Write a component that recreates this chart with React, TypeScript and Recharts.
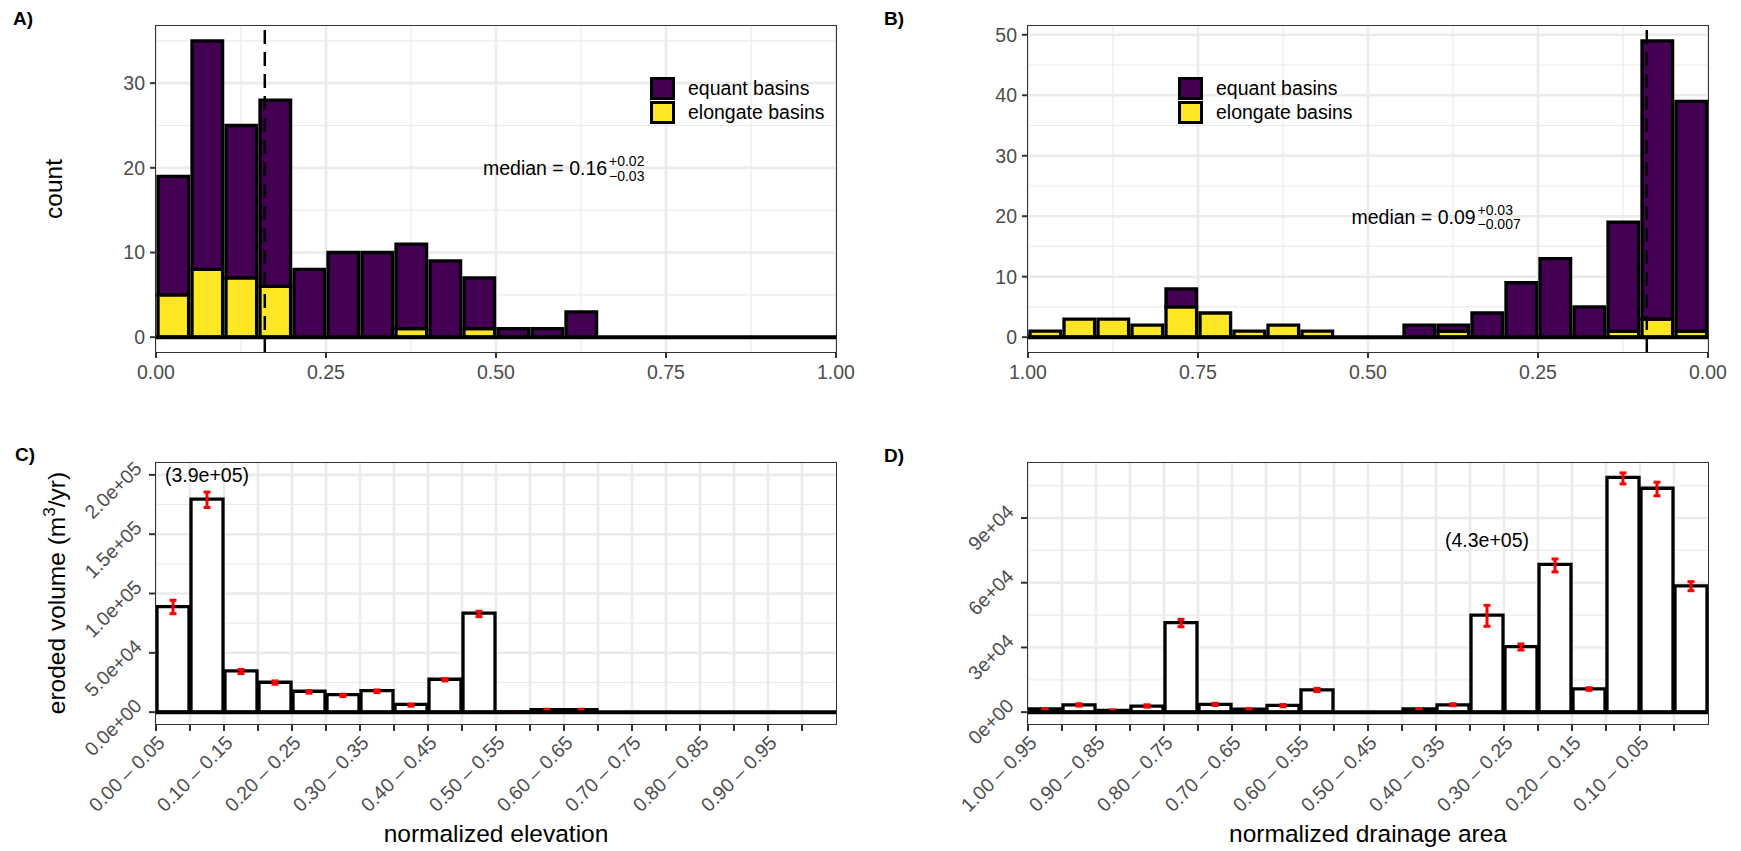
import React from 'react';
import {
  BarChart,
  Bar,
  XAxis,
  YAxis,
  CartesianGrid,
  ReferenceLine,
  ReferenceDot,
  ErrorBar
} from 'recharts';

const FONT = '"Liberation Sans", Arial, Helvetica, sans-serif';
const PURPLE = '#440154';
const YELLOW = '#FDE725';
const GRID = '#EBEBEB';
const TICK_TEXT = '#4D4D4D';
const AXIS = '#333333';

// bins of normalized elevation, left to right
const elevBinLabels = [
  '0.00 – 0.05', '0.05 – 0.10', '0.10 – 0.15', '0.15 – 0.20', '0.20 – 0.25',
  '0.25 – 0.30', '0.30 – 0.35', '0.35 – 0.40', '0.40 – 0.45', '0.45 – 0.50',
  '0.50 – 0.55', '0.55 – 0.60', '0.60 – 0.65', '0.65 – 0.70', '0.70 – 0.75',
  '0.75 – 0.80', '0.80 – 0.85', '0.85 – 0.90', '0.90 – 0.95', '0.95 – 1.00'
];
const elevBreaks = [0, 0.05, 0.1, 0.15, 0.2, 0.25, 0.3, 0.35, 0.4, 0.45, 0.5, 0.55, 0.6, 0.65, 0.7, 0.75, 0.8, 0.85, 0.9, 0.95];
const elevMids = [0.025, 0.075, 0.125, 0.175, 0.225, 0.275, 0.325, 0.375, 0.425, 0.475, 0.525, 0.575, 0.625, 0.675, 0.725, 0.775, 0.825, 0.875, 0.925, 0.975];

// bins of normalized drainage area, left to right (axis reversed)
const areaBinLabels = [
  '1.00 – 0.95', '0.95 – 0.90', '0.90 – 0.85', '0.85 – 0.80', '0.80 – 0.75',
  '0.75 – 0.70', '0.70 – 0.65', '0.65 – 0.60', '0.60 – 0.55', '0.55 – 0.50',
  '0.50 – 0.45', '0.45 – 0.40', '0.40 – 0.35', '0.35 – 0.30', '0.30 – 0.25',
  '0.25 – 0.20', '0.20 – 0.15', '0.15 – 0.10', '0.10 – 0.05', '0.05 – 0.00'
];
const areaBreaks = [1, 0.95, 0.9, 0.85, 0.8, 0.75, 0.7, 0.65, 0.6, 0.55, 0.5, 0.45, 0.4, 0.35, 0.3, 0.25, 0.2, 0.15, 0.1, 0.05];
const areaMids = [0.975, 0.925, 0.875, 0.825, 0.775, 0.725, 0.675, 0.625, 0.575, 0.525, 0.475, 0.425, 0.375, 0.325, 0.275, 0.225, 0.175, 0.125, 0.075, 0.025];

// A) counts
const elevEquant = [14, 27, 18, 22, 8, 10, 10, 10, 9, 6, 1, 1, 3, 0, 0, 0, 0, 0, 0, 0];
const elevElongate = [5, 8, 7, 6, 0, 0, 0, 1, 0, 1, 0, 0, 0, 0, 0, 0, 0, 0, 0, 0];

// B) counts
const areaEquant = [0, 0, 0, 0, 3, 0, 0, 0, 0, 0, 0, 2, 1, 4, 9, 13, 5, 18, 46, 38];
const areaElongate = [1, 3, 3, 2, 5, 4, 1, 2, 1, 0, 0, 0, 1, 0, 0, 0, 0, 1, 3, 1];

// C) eroded volume (m3/yr) with error range
const elevVolume = [89000, 179500, 34700, 25200, 17600, 14800, 18200, 6500, 27700, 83400, 300, 2000, 2000, 0, 0, 0, 0, 0, 0, 0];
const elevVolLow = [83000, 172500, 32500, 23500, 16000, 13200, 16500, 5000, 26300, 80500, 0, 1200, 1200, null, null, null, null, null, null, null];
const elevVolHigh = [94300, 185500, 36000, 26300, 18200, 15000, 18700, 6800, 28300, 85000, 600, 2400, 2400, null, null, null, null, null, null, null];

// D) eroded volume (m3/yr) with error range
const areaVolume = [1500, 3400, 800, 2800, 41500, 3600, 1400, 3100, 10300, 0, 0, 1500, 3400, 45000, 30400, 68500, 10800, 108800, 103800, 58500];
const areaVolLow = [800, 2800, 300, 2300, 39600, 3100, 800, 2500, 9500, null, null, 800, 3000, 39800, 28800, 65000, 10100, 105800, 100300, 56300];
const areaVolHigh = [1700, 3900, 1000, 3400, 43000, 4100, 1600, 3500, 11000, null, null, 1700, 3900, 49500, 31600, 71000, 11300, 110900, 106600, 60500];

const legendNames = ['equant basins', 'elongate basins'];
const legendColors = [PURPLE, YELLOW];

const fracTicks = [0, 0.25, 0.5, 0.75, 1];
const fracLabels = ['0.00', '0.25', '0.50', '0.75', '1.00'];
const fracMinor = [0.125, 0.375, 0.625, 0.875];

const countTicksA = [0, 10, 20, 30];
const countMinorA = [5, 15, 25, 35];
const countTicksB = [0, 10, 20, 30, 40, 50];
const countMinorB = [5, 15, 25, 35, 45];

const volTicksC = [0, 50000, 100000, 150000, 200000];
const volLabelsC = ['0.0e+00', '5.0e+04', '1.0e+05', '1.5e+05', '2.0e+05'];
const volMinorC = [25000, 75000, 125000, 175000];
const volTicksD = [0, 30000, 60000, 90000];
const volLabelsD = ['0e+00', '3e+04', '6e+04', '9e+04'];
const volMinorD = [15000, 45000, 75000, 105000];

const histRows = (mids: number[], equant: number[], elongate: number[]) =>
  mids.map((mid, i) => ({ mid, equant: equant[i], elongate: elongate[i] }));

const volRows = (mids: number[], vol: number[], lo: (number | null)[], hi: (number | null)[]) =>
  mids.map((mid, i) => ({
    mid,
    vol: vol[i],
    err: lo[i] == null ? null : [vol[i] - (lo[i] as number), (hi[i] as number) - vol[i]]
  }));

const findIdx = (arr: number[], v: number) => arr.findIndex((a) => Math.abs(a - v) < 1e-9);

const medianLabel = (main: string, sup: string, sub: string, scriptW: number) => (p: any) => {
  const vb = p.viewBox || {};
  const cx = vb.x + (vb.width || 0) / 2;
  const cy = vb.y + (vb.height || 0) / 2;
  const mainW = 124;
  const left = cx - (mainW + 2 + scriptW) / 2;
  return (
    <g style={{ fontFamily: FONT }}>
      <text x={left} y={cy + 7.4} fontSize={19.5} fill="#000">{main}</text>
      <text x={left + mainW + 2} y={cy - 1.6} fontSize={14} fill="#000">{sup}</text>
      <text x={left + mainW + 2} y={cy + 13} fontSize={14} fill="#000">{sub}</text>
    </g>
  );
};

const totalLabel = (txt: string) => (p: any) => {
  const vb = p.viewBox || {};
  const cx = vb.x + (vb.width || 0) / 2;
  const cy = vb.y + (vb.height || 0) / 2;
  return (
    <text x={cx} y={cy + 7} textAnchor="middle" fontSize={19.5} fill="#000" style={{ fontFamily: FONT }}>
      {txt}
    </text>
  );
};

const rotXTick = (breaks: number[], labels: string[]) => (props: any) => {
  const { x, y, payload } = props;
  const i = findIdx(breaks, payload.value);
  if (i < 0 || i % 2 !== 0) return <g />;
  const ax = x + 10;
  const ay = y + 11;
  return (
    <text x={ax} y={ay} textAnchor="end" transform={`rotate(-45 ${ax} ${ay})`} fill={TICK_TEXT} fontSize={19.5} style={{ fontFamily: FONT }}>
      {labels[i]}
    </text>
  );
};

const rotYTick = (ticks: number[], labels: string[]) => (props: any) => {
  const { x, y, payload } = props;
  const i = findIdx(ticks, payload.value);
  const ay = y - 5;
  return (
    <text x={x} y={ay} textAnchor="end" transform={`rotate(-45 ${x} ${ay})`} fill={TICK_TEXT} fontSize={19.5} style={{ fontFamily: FONT }}>
      {i >= 0 ? labels[i] : ''}
    </text>
  );
};

const PlotBorder = ({ left, top, width, height }: any) => (
  <div
    style={{
      position: 'absolute',
      left: left - 0.75,
      top: top - 0.75,
      width: width + 1.5,
      height: height + 1.5,
      border: `1.5px solid ${AXIS}`,
      boxSizing: 'border-box',
      pointerEvents: 'none'
    }}
  />
);

const KeyLegend = ({ left, top }: { left: number; top: number }) => (
  <div style={{ position: 'absolute', left, top, pointerEvents: 'none' }}>
    {legendNames.map((name, i) => (
      <div key={name} style={{ display: 'flex', alignItems: 'center', height: 24 }}>
        <div style={{ width: 25, height: 23, background: legendColors[i], border: '3px solid #000', boxSizing: 'border-box' }} />
        <span style={{ marginLeft: 13, fontSize: 19.5, lineHeight: '24px', whiteSpace: 'nowrap' }}>{name}</span>
      </div>
    ))}
  </div>
);

const PanelTag = ({ left, top, text }: any) => (
  <div style={{ position: 'absolute', left, top, fontSize: 19, fontWeight: 'bold', lineHeight: 1 }}>{text}</div>
);

interface HistProps {
  left: number;
  top: number;
  marginLeft: number;
  marginRight: number;
  rows: any[];
  reversed: boolean;
  yDomain: [number, number];
  yTicks: number[];
  yMinor: number[];
  median: number;
  medianAt: [number, number];
  medianText: [string, string, string];
  scriptW: number;
}

const HistPanel = ({ left, top, marginLeft, marginRight, rows, reversed, yDomain, yTicks, yMinor, median, medianAt, medianText, scriptW }: HistProps) => (
  <div style={{ position: 'absolute', left, top }}>
    <BarChart
      width={870}
      height={420}
      data={rows}
      margin={{ top: 26, right: marginRight, left: marginLeft, bottom: 28 }}
      barCategoryGap={0}
      barGap={0}
      barSize={34}
    >
      <CartesianGrid stroke={GRID} strokeWidth={1.2} verticalValues={fracMinor} horizontalValues={yMinor} />
      <CartesianGrid stroke={GRID} strokeWidth={2.6} verticalValues={fracTicks} horizontalValues={yTicks} />
      <XAxis
        dataKey="mid"
        type="number"
        domain={[0, 1]}
        allowDataOverflow
        reversed={reversed}
        ticks={fracTicks}
        interval={0}
        height={40}
        tickSize={6}
        tickMargin={7}
        axisLine={false}
        tickLine={{ stroke: AXIS, strokeWidth: 2 }}
        tick={{ fill: TICK_TEXT, fontSize: 19.5 }}
        tickFormatter={(v: number) => fracLabels[findIdx(fracTicks, v)]}
      />
      <YAxis
        type="number"
        domain={yDomain}
        allowDataOverflow
        ticks={yTicks}
        interval={0}
        width={60}
        tickSize={6}
        tickMargin={5}
        axisLine={false}
        tickLine={{ stroke: AXIS, strokeWidth: 2 }}
        tick={{ fill: TICK_TEXT, fontSize: 19.5 }}
      />
      <Bar dataKey="elongate" stackId="s" fill={YELLOW} stroke="#000" strokeWidth={3.3} isAnimationActive={false} />
      <Bar dataKey="equant" stackId="s" fill={PURPLE} stroke="#000" strokeWidth={3.3} isAnimationActive={false} />
      <ReferenceLine y={0} stroke="#000" strokeWidth={4} />
      <ReferenceLine x={median} stroke="#000" strokeWidth={2.5} strokeDasharray="14 8" />
      <ReferenceDot
        x={medianAt[0]}
        y={medianAt[1]}
        r={1}
        fill="none"
        stroke="none"
        label={medianLabel(medianText[0], medianText[1], medianText[2], scriptW)}
      />
    </BarChart>
  </div>
);

interface VolProps {
  left: number;
  top: number;
  marginLeft: number;
  marginRight: number;
  rows: any[];
  reversed: boolean;
  breaks: number[];
  binLabels: string[];
  yDomain: [number, number];
  yTicks: number[];
  yLabels: string[];
  yMinor: number[];
  totalAt: [number, number];
  totalText: string;
}

const VolPanel = ({ left, top, marginLeft, marginRight, rows, reversed, breaks, binLabels, yDomain, yTicks, yLabels, yMinor, totalAt, totalText }: VolProps) => (
  <div style={{ position: 'absolute', left, top }}>
    <BarChart
      width={870}
      height={431}
      data={rows}
      margin={{ top: 43, right: marginRight, left: marginLeft, bottom: 27 }}
      barCategoryGap={0}
      barGap={0}
      barSize={32}
    >
      <CartesianGrid stroke={GRID} strokeWidth={1.2} vertical={false} horizontalValues={yMinor} />
      <CartesianGrid stroke={GRID} strokeWidth={2.6} verticalValues={breaks} horizontalValues={yTicks} />
      <XAxis
        dataKey="mid"
        type="number"
        domain={[0, 1]}
        allowDataOverflow
        reversed={reversed}
        ticks={breaks}
        interval={0}
        height={100}
        tickSize={7}
        tickMargin={2}
        axisLine={false}
        tickLine={{ stroke: AXIS, strokeWidth: 2 }}
        tick={rotXTick(breaks, binLabels)}
      />
      <YAxis
        type="number"
        domain={yDomain}
        allowDataOverflow
        ticks={yTicks}
        interval={0}
        width={60}
        tickSize={7}
        tickMargin={6}
        axisLine={false}
        tickLine={{ stroke: AXIS, strokeWidth: 2 }}
        tick={rotYTick(yTicks, yLabels)}
      />
      <Bar dataKey="vol" fill="#fff" stroke="#000" strokeWidth={3.3} isAnimationActive={false}>
        <ErrorBar dataKey="err" stroke="#FF0000" strokeWidth={3} width={3.5} isAnimationActive={false} />
      </Bar>
      <ReferenceLine y={0} stroke="#000" strokeWidth={4} />
      <ReferenceDot x={totalAt[0]} y={totalAt[1]} r={1} fill="none" stroke="none" label={totalLabel(totalText)} />
    </BarChart>
  </div>
);

const AxisTitle = ({ cx, cy, rotate, children }: any) => (
  <div
    style={{
      position: 'absolute',
      left: cx,
      top: cy,
      transform: `translate(-50%, -50%)${rotate ? ' rotate(-90deg)' : ''}`,
      fontSize: 24.5,
      lineHeight: 1,
      whiteSpace: 'nowrap'
    }}
  >
    {children}
  </div>
);

export default function App() {
  return (
    <div
      style={{
        position: 'absolute',
        left: 0,
        top: 0,
        width: 1741,
        height: 851,
        background: '#fff',
        fontFamily: FONT,
        color: '#000',
        overflow: 'hidden'
      }}
    >
      <HistPanel
        left={0}
        top={0}
        marginLeft={96}
        marginRight={34}
        rows={histRows(elevMids, elevEquant, elevElongate)}
        reversed={false}
        yDomain={[-1.75, 36.75]}
        yTicks={countTicksA}
        yMinor={countMinorA}
        median={0.16}
        medianAt={[0.6, 20]}
        medianText={['median = 0.16', '+0.02', '\u22120.03']}
        scriptW={36}
      />
      <HistPanel
        left={870}
        top={0}
        marginLeft={98}
        marginRight={32}
        rows={histRows(areaMids, areaEquant, areaElongate)}
        reversed={true}
        yDomain={[-2.45, 51.45]}
        yTicks={countTicksB}
        yMinor={countMinorB}
        median={0.09}
        medianAt={[0.4, 20]}
        medianText={['median = 0.09', '+0.03', '\u22120.007']}
        scriptW={43}
      />
      <VolPanel
        left={0}
        top={420}
        marginLeft={96}
        marginRight={34}
        rows={volRows(elevMids, elevVolume, elevVolLow, elevVolHigh)}
        reversed={false}
        breaks={elevBreaks}
        binLabels={elevBinLabels}
        yDomain={[-10000, 210000]}
        yTicks={volTicksC}
        yLabels={volLabelsC}
        yMinor={volMinorC}
        totalAt={[0.075, 200000]}
        totalText="(3.9e+05)"
      />
      <VolPanel
        left={870}
        top={420}
        marginLeft={98}
        marginRight={32}
        rows={volRows(areaMids, areaVolume, areaVolLow, areaVolHigh)}
        reversed={true}
        breaks={areaBreaks}
        binLabels={areaBinLabels}
        yDomain={[-5500, 115500]}
        yTicks={volTicksD}
        yLabels={volLabelsD}
        yMinor={volMinorD}
        totalAt={[0.325, 80000]}
        totalText="(4.3e+05)"
      />

      <PlotBorder left={156} top={26} width={680} height={326} />
      <PlotBorder left={1028} top={26} width={680} height={326} />
      <PlotBorder left={156} top={463} width={680} height={261} />
      <PlotBorder left={1028} top={463} width={680} height={261} />

      <KeyLegend left={650} top={76} />
      <KeyLegend left={1178} top={76} />

      <PanelTag left={13} top={9} text="A)" />
      <PanelTag left={884} top={9} text="B)" />
      <PanelTag left={15} top={445} text="C)" />
      <PanelTag left={884} top={446} text="D)" />

      <AxisTitle cx={54} cy={189} rotate>count</AxisTitle>
      <AxisTitle cx={55} cy={593} rotate>
        eroded volume (m<span style={{ fontSize: '0.7em', verticalAlign: '0.6em' }}>3</span>/yr)
      </AxisTitle>
      <AxisTitle cx={496} cy={834}>normalized elevation</AxisTitle>
      <AxisTitle cx={1368} cy={834}>normalized drainage area</AxisTitle>
    </div>
  );
}
